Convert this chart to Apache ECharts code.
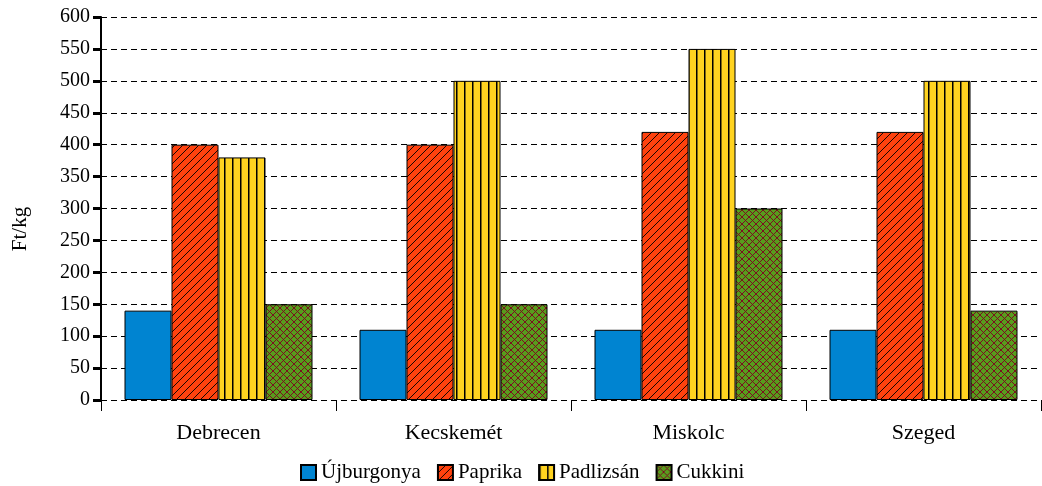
<!DOCTYPE html>
<html><head><meta charset="utf-8">
<script src="https://cdn.jsdelivr.net/npm/echarts@6/dist/echarts.min.js"></script>
<style>html,body{margin:0;padding:0;background:#fff}#c{width:1042px;height:486px}</style>
</head><body><div id="c"></div>
<script>
const categories = ['Debrecen', 'Kecskemét', 'Miskolc', 'Szeged'];
const seriesNames = ['Újburgonya', 'Paprika', 'Padlizsán', 'Cukkini'];
const ujburgonya = [140, 110, 110, 110];
const paprika = [400, 400, 420, 420];
const padlizsan = [380, 500, 550, 500];
const cukkini = [150, 150, 300, 140];
const yTicks = [0, 50, 100, 150, 200, 250, 300, 350, 400, 450, 500, 550, 600];

function tile(w, h, draw) {
  const c = document.createElement('canvas');
  c.width = w; c.height = h;
  draw(c.getContext('2d'));
  return c;
}
const redPat = tile(8, 8, g => {
  g.fillStyle = '#ff420e'; g.fillRect(0, 0, 8, 8);
  g.strokeStyle = '#000'; g.lineWidth = 0.9;
  g.beginPath(); g.moveTo(-1, 9); g.lineTo(9, -1); g.stroke();
});
const yelPat = tile(8, 8, g => {
  g.fillStyle = '#ffd320'; g.fillRect(0, 0, 8, 8);
  g.fillStyle = '#000'; g.fillRect(0, 0, 1.5, 8);
});
const grnPat = tile(7, 7, g => {
  g.fillStyle = '#579d1c'; g.fillRect(0, 0, 7, 7);
  g.strokeStyle = '#7e0021'; g.lineWidth = 0.9;
  g.beginPath(); g.moveTo(-1, 8); g.lineTo(8, -1); g.stroke();
  g.beginPath(); g.moveTo(-1, -1); g.lineTo(8, 8); g.stroke();
});

const colors = ['#0084d1', {image: redPat, repeat: 'repeat'}, {image: yelPat, repeat: 'repeat'}, {image: grnPat, repeat: 'repeat'}];
const values = [ujburgonya, paprika, padlizsan, cukkini];
const FONT = '"Liberation Serif", serif';

const chart = echarts.init(document.getElementById('c'), null, {renderer: 'canvas'});
chart.setOption({
  animation: false,
  textStyle: {fontFamily: FONT},
  grid: {left: 101, top: 17, right: 1, bottom: 86},
  legend: {
    left: 300, top: 462, padding: 0, itemWidth: 15, itemHeight: 15, itemGap: 16, icon: 'rect',
    textStyle: {fontFamily: FONT, fontSize: 21, color: '#000'},
    data: seriesNames
  },
  graphic: [{
    type: 'text', x: 20, y: 229, rotation: Math.PI / 2,
    style: {text: 'Ft/kg', font: '21px ' + FONT, fill: '#000', align: 'center', verticalAlign: 'middle'}
  }],
  xAxis: {
    type: 'category', data: categories,
    axisLine: {show: false},
    axisTick: {show: true, length: 11, lineStyle: {color: '#000', width: 1}},
    axisLabel: {fontSize: 22, color: '#000', margin: 22, fontFamily: FONT}
  },
  yAxis: {
    type: 'value', min: 0, max: 600, interval: 50,
    axisLine: {show: true, lineStyle: {color: '#000', width: 2}},
    axisTick: {show: true, length: 8, lineStyle: {color: '#000', width: 3}},
    axisLabel: {fontSize: 20, color: '#000', margin: 11, fontFamily: FONT,
      formatter: v => yTicks.includes(v) ? String(v) : ''},
    splitLine: {show: true, lineStyle: {color: '#000', type: [6, 4], width: 1}}
  },
  series: values.map((d, i) => ({
    name: seriesNames[i], type: 'bar', data: d,
    barGap: '0%', barCategoryGap: '20%',
    itemStyle: {color: colors[i], borderColor: '#000', borderWidth: 1}
  }))
});
</script></body></html>
